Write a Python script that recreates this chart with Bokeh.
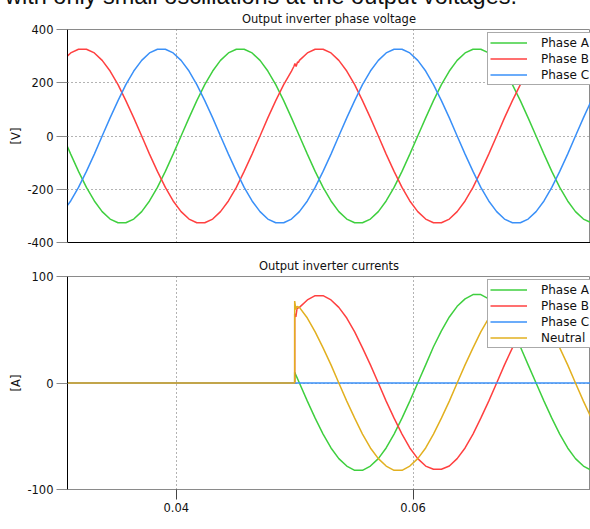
from bokeh.plotting import figure
from bokeh.models import Legend, LegendItem, Label, Div, FixedTicker, Range1d
from bokeh.layouts import column
from bokeh.embed import file_html
from bokeh.resources import INLINE

# ---------------- data ----------------
t_v = [0.03040, 0.03107, 0.03173, 0.03240, 0.03307, 0.03373, 0.03440, 0.03507, 0.03573, 0.03640,
       0.03707, 0.03773, 0.03840, 0.03907, 0.03973, 0.04040, 0.04107, 0.04173, 0.04240, 0.04307,
       0.04373, 0.04440, 0.04507, 0.04573, 0.04640, 0.04707, 0.04773, 0.04840, 0.04907, 0.04973,
       0.05040, 0.05107, 0.05173, 0.05240, 0.05307, 0.05373, 0.05440, 0.05507, 0.05573, 0.05640,
       0.05707, 0.05773, 0.05840, 0.05907, 0.05973, 0.06040, 0.06107, 0.06173, 0.06240, 0.06307,
       0.06373, 0.06440, 0.06507, 0.06573, 0.06640, 0.06707, 0.06773, 0.06840, 0.06907, 0.06973,
       0.07040, 0.07107, 0.07173, 0.07240, 0.07307, 0.07373, 0.07440, 0.07507]

va = [0, -68, -133, -193, -244, -284, -312, -326, -326, -312, -284, -244, -193, -133, -68,
      0, 68, 133, 193, 244, 284, 312, 326, 326, 312, 284, 244, 193, 133, 68,
      0, -68, -133, -193, -244, -284, -312, -326, -326, -312, -284, -244, -193, -133, -68,
      0, 68, 133, 193, 244, 284, 312, 326, 326, 312, 284, 244, 193, 133, 68,
      0, -68, -133, -193, -244, -284, -312, -326]

vb = [284, 312, 326, 326, 312, 284, 244, 193, 133, 68,
      0, -68, -133, -193, -244, -284, -312, -326, -326, -312, -284, -244, -193, -133, -68,
      0, 68, 133, 193, 244, 284, 312, 326, 326, 312, 284, 244, 193, 133, 68,
      0, -68, -133, -193, -244, -284, -312, -326, -326, -312, -284, -244, -193, -133, -68,
      0, 68, 133, 193, 244, 284, 312, 326, 326, 312, 284, 244, 193]

vc = [-284, -244, -193, -133, -68,
      0, 68, 133, 193, 244, 284, 312, 326, 326, 312, 284, 244, 193, 133, 68,
      0, -68, -133, -193, -244, -284, -312, -326, -326, -312, -284, -244, -193, -133, -68,
      0, 68, 133, 193, 244, 284, 312, 326, 326, 312, 284, 244, 193, 133, 68,
      0, -68, -133, -193, -244, -284, -312, -326, -326, -312, -284, -244, -193, -133, -68,
      0, 68, 133]

# small oscillation on phase B voltage when the load is connected
t_vb_glitch = [0.04994, 0.05002, 0.05012, 0.05024, 0.05032]
vb_glitch = [262, 272, 261, 278, 276]

# currents (zero before 0.05 s)
t_i_pre = [0.0300, 0.0500]
t_step = 0.0500
ia_step, ib_step, in_step = 10, 65, 77
t_i_glitch = [0.05010, 0.05020]
ib_glitch = [62, 70]
in_glitch = [69, 72]
t_i = t_v[30:]
ia = [0, -17, -33, -48, -61, -71, -78, -82, -82, -78, -71, -61, -48, -33, -17,
      0, 17, 34, 49, 62, 72, 79, 83, 83, 79, 72, 62, 49, 34, 17,
      0, -17, -33, -48, -61, -71, -78, -82]
ib = [71, 78, 82, 82, 78, 71, 61, 48, 33, 17,
      0, -17, -33, -48, -61, -71, -78, -81, -81, -78, -71, -61, -48, -33, -17,
      0, 17, 33, 48, 61, 71, 78, 82, 82, 78, 71, 61, 48]
i_n = [71, 61, 48, 33, 17,
       0, -17, -33, -48, -61, -71, -78, -82, -82, -78, -71, -61, -48, -33, -17,
       0, 17, 33, 48, 61, 71, 78, 82, 82, 78, 71, 61, 48, 33, 17,
       0, -17, -33]
t_ic = [0.0300, 0.0760]
ic = [0, 0]

x_ticks = [0.04, 0.06]
v_ticks = [-400, -200, 0, 200, 400]
i_ticks = [-100, 0, 100]
series_names_v = ["Phase A", "Phase B", "Phase C"]
series_names_i = ["Phase A", "Phase B", "Phase C", "Neutral"]

# ---------------- style ----------------
FONT = "DejaVu Sans"
GREEN = "#3fcf3f"
RED = "#ff4040"
BLUE = "#3a90f8"
GOLD = "#e2b020"
GREY = "#8a8a8a"
LW = 1.5
XR = (0.0308, 0.0750)
W = 590
FIX = {"min-width": "590px", "max-width": "none", "flex-shrink": "0"}


def style(p, yticks, ylabel, xaxis_color):
    p.outline_line_color = GREY
    p.background_fill_color = "white"
    p.border_fill_color = None
    p.title.text_font = FONT
    p.title.text_font_size = "11.5px"
    p.title.text_font_style = "normal"
    p.title.text_color = "#111111"
    p.title.align = "center"
    p.title.standoff = 7
    ax = p.yaxis[0]
    ax.ticker = FixedTicker(ticks=yticks)
    ax.major_label_overrides = {v: str(v) for v in yticks}
    ax.major_tick_out = 11
    ax.major_tick_in = 0
    ax.minor_tick_line_color = None
    ax.major_tick_line_color = GREY
    ax.axis_line_color = "black"
    ax.major_label_text_font = FONT
    ax.major_label_text_font_size = "11.5px"
    ax.major_label_text_color = "#111111"
    ax.major_label_standoff = 3
    ax.axis_label = ylabel
    ax.axis_label_text_font = FONT
    ax.axis_label_text_font_size = "11.5px"
    ax.axis_label_text_font_style = "normal"
    ax.axis_label_text_color = "#111111"
    ax.axis_label_standoff = 1
    xa = p.xaxis[0]
    xa.axis_line_color = xaxis_color
    xa.minor_tick_line_color = None
    p.ygrid.ticker = FixedTicker(ticks=[v for v in yticks if v not in (yticks[0], yticks[-1])])
    p.ygrid.grid_line_dash = "1 3"
    p.ygrid.grid_line_color = "#666666"
    p.xgrid.ticker = FixedTicker(ticks=x_ticks)
    p.xgrid.grid_line_dash = "1 3"
    p.xgrid.grid_line_color = "#666666"
    p.styles = dict(FIX)


def make_legend(p, renderers, names, loc):
    leg = Legend(items=[LegendItem(label=n, renderers=[r]) for n, r in zip(names, renderers)],
                 location=loc)
    leg.label_text_font = FONT
    leg.label_text_font_size = "12px"
    leg.label_text_color = "#111111"
    leg.border_line_color = "#555555"
    leg.border_line_width = 1
    leg.background_fill_color = "white"
    leg.background_fill_alpha = 1
    leg.padding = 2
    leg.spacing = 1
    leg.margin = 0
    leg.label_height = 15
    leg.glyph_height = 15
    leg.glyph_width = 37
    leg.label_standoff = 14
    p.add_layout(leg)


# top figure: voltages
p1 = figure(width=W, height=245, x_range=Range1d(*XR), y_range=Range1d(-400, 400),
            output_backend="svg", toolbar_location=None,
            min_border_left=67, min_border_right=0, min_border_top=24, min_border_bottom=8,
            title="Output inverter phase voltage")
style(p1, v_ticks, "[V]", "black")
p1.xaxis.ticker = FixedTicker(ticks=[])
p1.xaxis.major_tick_line_color = None
p1.xaxis.major_label_standoff = 0
p1.xaxis.major_tick_out = 0

pts_b = sorted(zip(t_v + t_vb_glitch, vb + vb_glitch))
ra = p1.line(t_v, va, line_color=GREEN, line_width=LW)
rb = p1.line([q[0] for q in pts_b], [q[1] for q in pts_b], line_color=RED, line_width=LW)
rc = p1.line(t_v, vc, line_color=BLUE, line_width=LW)
make_legend(p1, [ra, rb, rc], series_names_v, (420, 157))

# bottom figure: currents
p2 = figure(width=W, height=271, x_range=p1.x_range, y_range=Range1d(-100, 100),
            output_backend="svg", toolbar_location=None,
            min_border_left=67, min_border_right=0, min_border_top=26, min_border_bottom=32,
            title="Output inverter currents")
style(p2, i_ticks, "[A]", GREY)
p2.xaxis.ticker = FixedTicker(ticks=x_ticks)
p2.xaxis.major_tick_out = 10
p2.xaxis.major_tick_in = 0
p2.xaxis.major_tick_line_color = "#444444"
p2.xaxis.major_label_text_font = FONT
p2.xaxis.major_label_text_font_size = "11.5px"
p2.xaxis.major_label_text_color = "#111111"
p2.xaxis.major_label_standoff = 3

ta = t_i_pre + [t_step] + t_i
ya = [0, 0, ia_step] + ia
tb = t_i_pre + [t_step] + t_i_glitch + t_i
yb = [0, 0, ib_step] + ib_glitch + ib
tn = t_i_pre + [t_step] + t_i_glitch + t_i
yn = [0, 0, in_step] + in_glitch + i_n

r2a = p2.line(ta, ya, line_color=GREEN, line_width=LW)
r2b = p2.line(tb, yb, line_color=RED, line_width=LW)
r2c = p2.line(t_ic, ic, line_color=BLUE, line_width=LW)
r2n = p2.line(tn, yn, line_color=GOLD, line_width=LW)
make_legend(p2, [r2a, r2b, r2c, r2n], series_names_i, (420, 141))

p2.add_layout(Label(x=262, y=-23, x_units="screen", y_units="screen", text="[s]",
                    text_font=FONT, text_font_size="11.5px", text_align="center",
                    text_baseline="top", text_color="#111111"))

head = Div(text="with only small oscillations at the output voltages.", width=W, height=16,
           styles={"margin-top": "-16px", "font-family": "Liberation Sans, Arial",
                   "font-size": "23.5px", "line-height": "24px", "white-space": "nowrap",
                   "overflow": "visible", "color": "#111111"})

layout = column(head, p1, p2, spacing=0, width=W,
                styles={"margin-right": "-8px", "min-width": "590px", "max-width": "none"})
open("out.html", "w").write(file_html(layout, INLINE))
